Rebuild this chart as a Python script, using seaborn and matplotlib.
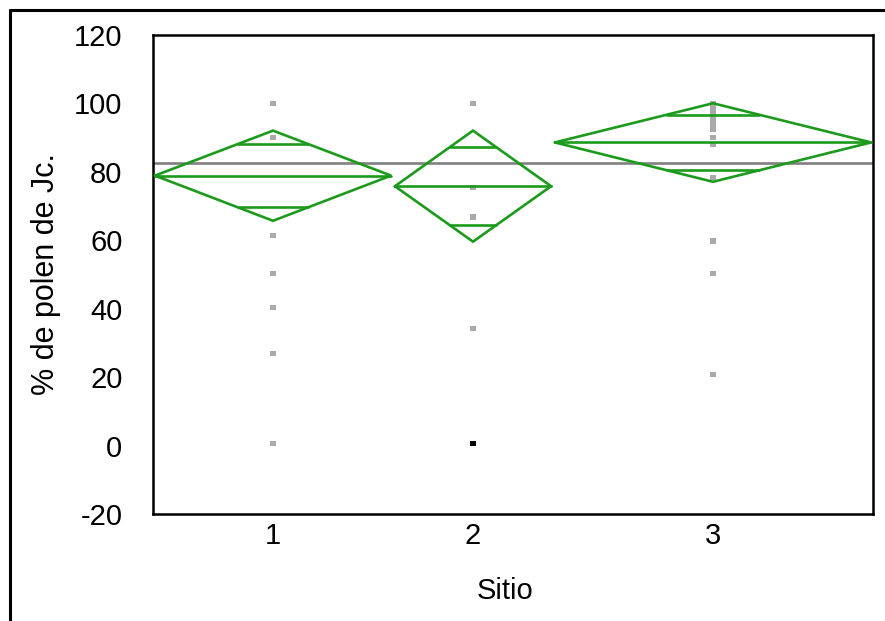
import numpy as np
import pandas as pd
import matplotlib
matplotlib.use("Agg")
import matplotlib.pyplot as plt
import seaborn as sns
from matplotlib.lines import Line2D

# ---------------- data ----------------
sitios = ["1", "2", "3"]
n_por_sitio = [15, 10, 20]                 # group sizes -> group widths on x
medias = [78.9, 75.8, 88.6]               # group means
ic_inferior = [65.7, 59.6, 77.1]          # 95% CI lower (diamond bottom)
ic_superior = [92.05, 92.05, 100.05]      # 95% CI upper (diamond top)
media_global = 82.6                       # grand mean

puntos_sitio1 = [100, 90, 61.4, 50.4, 40.3, 27.0, 0.5]
puntos_sitio2 = [100, 75.4, 66.8, 34.1]
puntos_sitio3 = [100, 99, 98, 97, 96, 95, 94, 92.5, 90, 88, 78.4, 59.8, 50.4, 20.8]
puntos_resaltados_sitio2 = [0.5]          # the black (selected) point

y_ticks = [-20, 0, 20, 40, 60, 80, 100, 120]

# ---------------- figure ----------------
sns.set_style("white")
plt.rcParams["font.family"] = ["Liberation Sans", "DejaVu Sans"]
plt.rcParams["text.color"] = "black"
plt.rcParams["axes.labelcolor"] = "black"
plt.rcParams["xtick.color"] = "black"
plt.rcParams["ytick.color"] = "black"

W, H = 885, 621
fig = plt.figure(figsize=(W / 100, H / 100), dpi=100)
ax = fig.add_axes([153 / W, 1 - 514 / H, (873 - 153) / W, (514 - 35) / H])

bounds = np.concatenate([[0], np.cumsum(n_por_sitio)])
centros = (bounds[:-1] + bounds[1:]) / 2

green = "#1c9a1c"
lw = 1.9

# grand mean line
ax.axhline(media_global, color="#808080", lw=1.9, zorder=1)

# points
grupos = [puntos_sitio1, puntos_sitio2, puntos_sitio3]
rows = []
for c, vals in zip(centros, grupos):
    for v in vals:
        rows.append({"x": c, "y": v})
df = pd.DataFrame(rows)
sns.scatterplot(data=df, x="x", y="y", marker="s", s=14, color="#aaaaaa",
                edgecolor="none", ax=ax, zorder=2)
df_sel = pd.DataFrame({"x": [centros[1]] * len(puntos_resaltados_sitio2),
                       "y": puntos_resaltados_sitio2})
sns.scatterplot(data=df_sel, x="x", y="y", marker="s", s=14, color="black",
                edgecolor="none", ax=ax, zorder=3)

# means diamonds
marg = 0.12
for i in range(len(sitios)):
    x0, x1 = bounds[i] + marg, bounds[i + 1] - marg
    xc = centros[i]
    m, lo, hi = medias[i], ic_inferior[i], ic_superior[i]
    ax.plot([x0, xc, x1, xc, x0], [m, hi, m, lo, m], color=green, lw=lw,
            solid_joinstyle="miter", zorder=4)
    ax.plot([x0, x1], [m, m], color=green, lw=lw, zorder=4)
    half = (hi - lo) / 2
    off = half * np.sqrt(2) / 2
    half_w = (x1 - x0) / 2
    for sgn in (1, -1):
        yv = m + sgn * off
        frac = 1 - off / half
        ax.plot([xc - half_w * frac, xc + half_w * frac], [yv, yv],
                color=green, lw=lw, zorder=4)

# axes styling
fs = 21
ax.set_xlim(bounds[0], bounds[-1])
ax.set_ylim(-20, 120)
ax.set_yticks(y_ticks)
ax.set_yticklabels([str(t) for t in y_ticks], fontsize=fs)
ax.set_xticks(bounds[1:-1])
ax.set_xticklabels([])
ax.set_xticks(centros, minor=True)
ax.set_xticklabels(sitios, minor=True, fontsize=fs)
ax.tick_params(axis="x", which="major", direction="out", length=8.6, width=1.6,
               color="black")
ax.tick_params(axis="x", which="minor", length=0, pad=6)
ax.tick_params(axis="y", direction="out", length=10, width=1.6, color="black",
               pad=12)
for s in ax.spines.values():
    s.set_visible(True)
    s.set_color("black")
    s.set_linewidth(1.8)

ax.set_xlabel("Sitio", fontsize=fs)
ax.set_ylabel("% de polen de Jc.", fontsize=22)
ax.xaxis.set_label_coords(352 / 720, -(577 - 514) / 479)
ax.yaxis.set_label_coords(-(153 - 61) / 720, 0.5)

# outer report frame
fig.add_artist(Line2D([10 / W, 1.0], [1 - 10 / H, 1 - 10 / H],
                      transform=fig.transFigure, color="black", lw=2.2))
fig.add_artist(Line2D([10 / W, 10 / W], [1 - 10 / H, 0.0],
                      transform=fig.transFigure, color="black", lw=2.2))

fig.savefig("out.png", dpi=100)
